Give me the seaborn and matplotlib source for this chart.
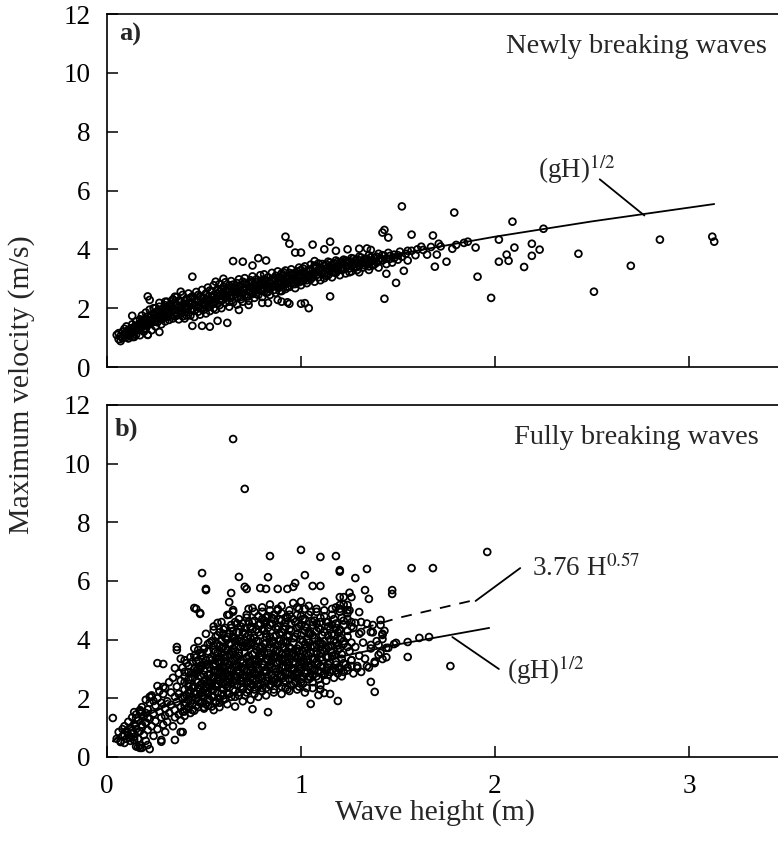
import pandas as pd
import matplotlib
matplotlib.use("Agg")
import matplotlib.pyplot as plt
import seaborn as sns

# ---- panel a: newly breaking waves (wave height m, max velocity m/s) ----
newly_band = [
    (0.05, 1.09), (0.06, 0.95), (0.06, 1.15), (0.07, 0.88), (0.07, 1.05), (0.08, 1.20), (0.08, 0.98), (0.09, 1.10),
    (0.09, 1.30), (0.10, 1.02), (0.10, 1.22), (0.10, 1.38), (0.11, 0.97), (0.11, 1.15), (0.12, 1.30), (0.12, 1.05),
    (0.13, 1.45), (0.13, 1.20), (0.14, 1.02), (0.14, 1.35), (0.15, 1.10), (0.15, 1.55), (0.16, 1.25), (0.16, 1.42),
    (0.17, 1.62), (0.17, 1.08), (0.18, 1.35), (0.18, 1.75), (0.19, 1.50), (0.19, 1.20), (0.20, 1.85), (0.20, 1.62),
    (0.20, 1.30), (0.21, 1.10), (0.21, 1.72), (0.22, 1.45), (0.22, 1.95), (0.23, 1.60), (0.23, 1.25), (0.24, 1.80),
    (0.24, 2.00), (0.25, 1.38), (0.25, 1.68), (0.26, 1.90), (0.26, 1.52), (0.27, 2.05), (0.27, 1.75), (0.28, 1.45),
    (0.28, 1.62), (0.29, 1.95), (0.30, 1.55), (0.30, 2.10), (0.30, 1.80), (0.31, 1.70), (0.31, 2.22), (0.32, 1.95),
    (0.32, 1.60), (0.33, 2.05), (0.33, 1.85), (0.34, 2.30), (0.34, 1.65), (0.35, 1.95), (0.35, 2.15), (0.36, 1.75),
    (0.36, 2.38), (0.37, 2.05), (0.37, 1.62), (0.38, 1.88), (0.38, 2.25), (0.39, 2.45), (0.39, 1.72), (0.40, 2.00),
    (0.40, 2.15), (0.40, 1.65), (0.41, 2.32), (0.41, 1.85), (0.42, 2.05), (0.42, 2.50), (0.43, 1.75), (0.43, 2.20),
    (0.44, 1.95), (0.44, 2.40), (0.45, 2.10), (0.45, 1.70), (0.46, 2.28), (0.46, 2.55), (0.47, 1.88), (0.47, 2.05),
    (0.48, 2.42), (0.48, 1.78), (0.49, 2.18), (0.49, 2.62), (0.50, 1.95), (0.50, 2.35), (0.50, 2.10), (0.51, 1.82),
    (0.51, 2.50), (0.52, 2.25), (0.52, 2.70), (0.53, 2.05), (0.53, 1.90), (0.54, 2.40), (0.54, 2.58), (0.55, 2.15),
    (0.55, 2.78), (0.56, 1.95), (0.56, 2.32), (0.57, 2.65), (0.57, 2.48), (0.58, 2.10), (0.58, 2.82), (0.59, 2.30),
    (0.59, 2.00), (0.60, 2.55), (0.60, 2.72), (0.60, 2.40), (0.61, 2.18), (0.61, 2.88), (0.62, 2.45), (0.62, 2.62),
    (0.63, 2.05), (0.63, 2.78), (0.64, 2.35), (0.64, 2.92), (0.65, 2.55), (0.65, 2.20), (0.66, 2.70), (0.66, 2.48),
    (0.67, 2.85), (0.67, 2.12), (0.68, 2.60), (0.68, 2.98), (0.69, 2.38), (0.69, 2.75), (0.70, 2.50), (0.70, 2.90),
    (0.70, 2.22), (0.71, 2.65), (0.71, 3.02), (0.72, 2.40), (0.72, 2.82), (0.73, 2.58), (0.73, 2.25), (0.74, 2.95),
    (0.74, 2.70), (0.75, 2.48), (0.75, 3.08), (0.76, 2.80), (0.76, 2.35), (0.77, 2.62), (0.77, 2.98), (0.78, 2.75),
    (0.78, 2.45), (0.79, 3.12), (0.79, 2.88), (0.80, 2.60), (0.80, 2.95), (0.80, 2.38), (0.81, 2.78), (0.81, 3.15),
    (0.82, 2.52), (0.82, 2.90), (0.83, 3.05), (0.83, 2.68), (0.84, 2.45), (0.84, 2.85), (0.85, 3.20), (0.85, 2.98),
    (0.86, 2.62), (0.86, 2.78), (0.87, 3.10), (0.87, 2.52), (0.88, 2.92), (0.88, 3.25), (0.89, 2.70), (0.89, 2.85),
    (0.90, 3.02), (0.90, 2.58), (0.90, 3.18), (0.91, 2.80), (0.91, 2.95), (0.92, 3.28), (0.92, 2.65), (0.93, 3.08),
    (0.93, 2.88), (0.94, 2.72), (0.94, 3.20), (0.95, 2.98), (0.95, 3.32), (0.96, 2.82), (0.96, 3.12), (0.97, 2.68),
    (0.97, 3.02), (0.98, 3.25), (0.98, 2.90), (0.99, 3.15), (0.99, 3.38), (1.00, 2.78), (1.00, 3.05), (1.00, 3.30),
    (1.01, 2.92), (1.02, 3.18), (1.02, 3.42), (1.03, 2.85), (1.03, 3.08), (1.04, 3.30), (1.05, 2.98), (1.05, 3.48),
    (1.06, 3.15), (1.07, 2.90), (1.07, 3.38), (1.08, 3.22), (1.09, 3.05), (1.09, 3.52), (1.10, 3.30), (1.10, 2.95),
    (1.11, 3.18), (1.12, 3.45), (1.12, 3.02), (1.13, 3.35), (1.14, 3.58), (1.14, 3.12), (1.15, 3.28), (1.16, 3.48),
    (1.16, 3.05), (1.17, 3.38), (1.18, 3.62), (1.18, 3.20), (1.19, 3.42), (1.20, 3.12), (1.20, 3.55), (1.21, 3.30),
    (1.22, 3.65), (1.23, 3.45), (1.23, 3.18), (1.24, 3.58), (1.25, 3.35), (1.26, 3.70), (1.26, 3.25), (1.27, 3.50),
    (1.28, 3.62), (1.29, 3.40), (1.30, 3.22), (1.30, 3.75), (1.31, 3.52), (1.32, 3.38), (1.33, 3.68), (1.34, 3.48),
    (1.35, 3.80), (1.35, 3.30), (1.36, 3.60), (1.37, 3.45), (1.38, 3.72), (1.39, 3.55), (1.40, 3.85), (1.40, 3.38),
    (1.42, 3.62), (1.43, 3.78), (1.44, 3.50), (1.45, 3.88), (1.46, 3.68), (1.47, 3.55), (1.48, 3.82), (1.50, 3.65),
    (1.51, 3.92), (1.52, 3.75), (1.54, 3.85), (1.55, 3.62), (1.57, 3.95), (1.59, 3.80),
]
newly_core = [
    (0.10, 1.18), (0.11, 1.25), (0.12, 1.12), (0.13, 1.33), (0.14, 1.22), (0.15, 1.40), (0.16, 1.30), (0.17, 1.48),
    (0.18, 1.40), (0.19, 1.62), (0.20, 1.45), (0.21, 1.58), (0.22, 1.70), (0.23, 1.50), (0.24, 1.65), (0.25, 1.85),
    (0.26, 1.70), (0.27, 1.88), (0.28, 1.78), (0.29, 1.68), (0.30, 1.92), (0.31, 1.82), (0.32, 2.08), (0.33, 1.75),
    (0.34, 1.98), (0.35, 1.85), (0.36, 2.12), (0.37, 1.92), (0.38, 2.05), (0.39, 1.85), (0.40, 2.25), (0.41, 2.00),
    (0.42, 2.18), (0.43, 1.95), (0.44, 2.15), (0.45, 2.30), (0.46, 2.05), (0.47, 2.22), (0.48, 2.00), (0.49, 2.35),
    (0.50, 2.20), (0.51, 2.10), (0.52, 2.38), (0.53, 2.28), (0.54, 2.12), (0.55, 2.45), (0.56, 2.22), (0.57, 2.38),
    (0.58, 2.55), (0.59, 2.25), (0.60, 2.48), (0.61, 2.35), (0.62, 2.55), (0.63, 2.40), (0.64, 2.68), (0.65, 2.42),
    (0.66, 2.58), (0.67, 2.38), (0.68, 2.72), (0.69, 2.52), (0.70, 2.65), (0.71, 2.45), (0.72, 2.70), (0.73, 2.85),
    (0.74, 2.55), (0.75, 2.72), (0.76, 2.62), (0.77, 2.88), (0.78, 2.60), (0.79, 2.78), (0.80, 2.85), (0.81, 2.65),
    (0.82, 2.95), (0.83, 2.78), (0.84, 2.70), (0.85, 2.92), (0.86, 3.02), (0.87, 2.80), (0.88, 2.72), (0.89, 3.05),
    (0.90, 2.90), (0.91, 3.10), (0.92, 2.82), (0.93, 2.98), (0.94, 3.05), (0.95, 2.85), (0.96, 3.18), (0.97, 2.95),
    (0.98, 3.08), (0.99, 2.88), (1.00, 3.15), (1.01, 3.22), (1.02, 3.00), (1.03, 3.25), (1.04, 3.10), (1.05, 3.32),
    (1.06, 3.05), (1.07, 3.20), (1.08, 3.40), (1.09, 3.15), (1.10, 3.38), (1.11, 3.25), (1.12, 3.18), (1.13, 3.48),
    (1.14, 3.30), (1.15, 3.40), (1.16, 3.22), (1.17, 3.52), (1.18, 3.35), (1.19, 3.28), (1.20, 3.45), (1.21, 3.58),
    (1.22, 3.32), (1.23, 3.55), (1.24, 3.42), (1.25, 3.60), (1.26, 3.48), (1.27, 3.38), (1.28, 3.52), (1.29, 3.65),
    (1.30, 3.45), (1.31, 3.62), (1.32, 3.55), (1.33, 3.45), (1.34, 3.68), (1.35, 3.55), (1.36, 3.72), (1.37, 3.62),
    (1.38, 3.50), (1.39, 3.75), (1.40, 3.62), (1.41, 3.70), (1.42, 3.80), (1.44, 3.68), (1.46, 3.78), (1.48, 3.70),
    (1.50, 3.80), (0.15, 1.28), (0.17, 1.38), (0.19, 1.30), (0.21, 1.45), (0.23, 1.75), (0.25, 1.55), (0.27, 1.62),
    (0.29, 1.82), (0.31, 1.95), (0.33, 2.15), (0.35, 1.72), (0.37, 2.25), (0.39, 2.10), (0.41, 1.75), (0.43, 2.35),
    (0.45, 1.92), (0.47, 2.45), (0.49, 1.98), (0.51, 2.28), (0.53, 2.60), (0.55, 2.00), (0.57, 2.15), (0.59, 2.65),
    (0.61, 2.60), (0.63, 2.22), (0.65, 2.80), (0.67, 2.55), (0.69, 2.30), (0.71, 2.85), (0.73, 2.40), (0.75, 2.90),
    (0.77, 2.48), (0.79, 2.62), (0.81, 2.98), (0.83, 2.55), (0.85, 2.75), (0.87, 2.95), (0.89, 2.58), (0.91, 3.22),
    (0.93, 2.72), (0.95, 3.12), (0.97, 2.82), (0.99, 3.05), (1.01, 3.35), (1.03, 2.95), (1.05, 3.15), (1.07, 3.45),
    (1.09, 3.30), (1.11, 3.50), (1.13, 3.10), (1.15, 3.55), (1.17, 3.22), (1.19, 3.58), (1.21, 3.40), (1.23, 3.62),
    (1.25, 3.22), (1.27, 3.68), (1.29, 3.30), (1.31, 3.72), (1.33, 3.58), (1.35, 3.42),
]
newly_scatter = [
    (0.13, 1.74), (0.21, 2.40), (0.22, 2.28), (0.25, 2.00), (0.27, 2.18), (0.30, 2.22), (0.34, 2.28), (0.35, 2.39),
    (0.38, 2.56), (0.31, 2.05), (0.44, 3.07), (0.56, 2.90), (0.60, 3.00), (0.65, 3.60), (0.70, 3.58), (0.75, 3.45),
    (0.78, 3.70), (0.82, 3.62), (0.92, 4.43), (0.94, 4.19), (1.06, 4.16), (1.15, 4.26), (0.93, 2.20), (0.94, 2.15),
    (1.02, 2.17), (1.04, 2.00), (1.15, 2.40), (1.43, 2.32), (1.42, 4.57), (1.43, 4.66), (1.45, 4.40), (0.44, 1.40),
    (0.49, 1.40), (0.53, 1.37), (0.57, 1.57), (0.62, 1.50), (0.27, 1.19), (0.13, 1.02), (0.21, 1.09), (0.68, 1.94),
    (0.73, 2.11), (0.80, 2.18), (0.83, 2.18), (0.88, 2.28), (0.90, 2.22), (1.00, 2.15), (1.52, 5.46), (1.79, 5.25),
    (1.57, 4.50), (1.68, 4.47), (1.71, 4.19), (1.62, 4.09), (1.78, 4.02), (1.86, 4.26), (1.90, 4.06), (1.91, 3.07),
    (1.98, 2.35), (1.75, 3.58), (1.69, 3.41), (1.65, 3.82), (1.70, 3.82), (1.53, 3.27), (1.49, 2.86), (1.44, 3.17),
    (1.07, 3.60), (0.97, 3.89), (1.00, 3.89), (1.12, 4.00), (1.18, 3.95), (1.24, 4.00), (1.30, 4.02), (1.34, 4.03),
    (1.36, 3.98), (1.55, 3.95), (1.60, 4.00), (1.63, 3.98), (1.67, 4.08), (1.72, 4.10), (1.80, 4.15), (1.84, 4.22),
    (2.09, 4.94), (2.02, 4.33), (2.25, 4.70), (2.10, 4.06), (2.19, 4.19), (2.23, 3.99), (2.06, 3.82), (2.07, 3.61),
    (2.02, 3.58), (2.19, 3.78), (2.15, 3.40), (2.43, 3.85), (2.70, 3.44), (2.51, 2.56), (2.85, 4.33), (3.12, 4.43),
    (3.13, 4.26),
]

# ---- panel b: fully breaking waves ----
fully_band = [
    (0.05, 0.62), (0.06, 0.85), (0.07, 0.55), (0.08, 0.95), (0.08, 0.70), (0.09, 1.05), (0.10, 0.62), (0.10, 0.88),
    (0.11, 1.20), (0.11, 0.75), (0.12, 1.00), (0.12, 0.55), (0.13, 1.35), (0.13, 0.90), (0.14, 1.12), (0.14, 0.68),
    (0.15, 1.45), (0.15, 0.95), (0.16, 1.25), (0.16, 0.62), (0.17, 1.55), (0.17, 0.88), (0.18, 1.10), (0.18, 1.70),
    (0.19, 0.75), (0.19, 1.40), (0.20, 1.95), (0.20, 1.18), (0.20, 0.55), (0.21, 1.62), (0.21, 0.92), (0.22, 1.30),
    (0.22, 1.85), (0.23, 1.05), (0.23, 2.10), (0.24, 1.48), (0.24, 0.72), (0.25, 1.75), (0.25, 1.22), (0.26, 2.00),
    (0.26, 0.95), (0.27, 1.55), (0.27, 2.25), (0.28, 1.35), (0.28, 1.85), (0.29, 1.10), (0.29, 2.15), (0.30, 1.65),
    (0.30, 1.40), (0.30, 2.35), (0.31, 1.20), (0.31, 1.90), (0.32, 2.55), (0.32, 1.50), (0.33, 1.78), (0.33, 2.20),
    (0.34, 1.05), (0.34, 2.70), (0.35, 1.60), (0.35, 2.05), (0.35, 1.35), (0.36, 2.40), (0.36, 1.88), (0.37, 2.85),
    (0.37, 1.45), (0.37, 2.15), (0.38, 1.70), (0.38, 2.60), (0.38, 1.25), (0.39, 2.00), (0.39, 3.05), (0.39, 1.55),
    (0.40, 2.30), (0.40, 1.85), (0.40, 2.75), (0.40, 1.40), (0.41, 2.10), (0.41, 3.20), (0.41, 1.62), (0.42, 2.50),
    (0.42, 1.95), (0.42, 2.90), (0.43, 1.50), (0.43, 2.25), (0.43, 3.40), (0.44, 2.70), (0.44, 1.80), (0.44, 2.05),
    (0.45, 3.00), (0.45, 2.40), (0.45, 1.58), (0.46, 2.85), (0.46, 2.15), (0.46, 3.25), (0.47, 1.90), (0.47, 2.55),
    (0.47, 1.70), (0.48, 3.10), (0.48, 2.30), (0.48, 2.75), (0.49, 1.85), (0.49, 3.45), (0.49, 2.20), (0.50, 2.60),
    (0.50, 1.65), (0.50, 2.95), (0.50, 2.05), (0.51, 3.30), (0.51, 2.40), (0.51, 1.80), (0.52, 2.80), (0.52, 2.15),
    (0.52, 3.60), (0.53, 1.95), (0.53, 2.55), (0.53, 3.05), (0.54, 2.30), (0.54, 3.40), (0.54, 1.72), (0.55, 2.70),
    (0.55, 2.05), (0.55, 3.80), (0.56, 2.45), (0.56, 3.15), (0.56, 1.90), (0.57, 2.90), (0.57, 2.20), (0.57, 3.55),
    (0.58, 2.60), (0.58, 1.85), (0.58, 3.25), (0.59, 2.35), (0.59, 3.95), (0.59, 2.75), (0.60, 2.10), (0.60, 3.00),
    (0.60, 3.45), (0.60, 2.50), (0.61, 2.85), (0.61, 3.70), (0.61, 1.98), (0.62, 2.40), (0.62, 3.20), (0.62, 4.10),
    (0.63, 2.65), (0.63, 3.50), (0.63, 2.15), (0.64, 3.00), (0.64, 3.85), (0.64, 2.50), (0.65, 2.30), (0.65, 3.30),
    (0.65, 4.30), (0.66, 2.75), (0.66, 3.60), (0.66, 2.05), (0.67, 3.10), (0.67, 2.45), (0.67, 4.00), (0.68, 2.90),
    (0.68, 3.45), (0.68, 2.20), (0.69, 3.75), (0.69, 2.60), (0.69, 4.45), (0.70, 3.20), (0.70, 2.35), (0.70, 3.90),
    (0.70, 2.80), (0.71, 3.55), (0.71, 2.10), (0.71, 4.20), (0.72, 2.95), (0.72, 2.55), (0.72, 3.35), (0.73, 4.60),
    (0.73, 2.30), (0.73, 3.80), (0.74, 3.10), (0.74, 2.70), (0.74, 4.05), (0.75, 2.45), (0.75, 3.50), (0.75, 4.35),
    (0.76, 2.85), (0.76, 3.25), (0.76, 2.15), (0.77, 3.95), (0.77, 2.60), (0.77, 3.65), (0.78, 4.50), (0.78, 3.00),
    (0.78, 2.40), (0.79, 3.40), (0.79, 4.15), (0.79, 2.75), (0.80, 3.75), (0.80, 2.25), (0.80, 4.70), (0.80, 3.15),
    (0.81, 2.55), (0.81, 3.55), (0.81, 4.30), (0.82, 2.90), (0.82, 3.90), (0.82, 2.35), (0.83, 3.30), (0.83, 4.80),
    (0.83, 2.70), (0.84, 3.70), (0.84, 2.45), (0.84, 4.10), (0.85, 3.05), (0.85, 4.55), (0.85, 2.80), (0.86, 3.45),
    (0.86, 2.30), (0.86, 3.95), (0.87, 2.65), (0.87, 4.40), (0.87, 3.20), (0.88, 3.80), (0.88, 2.50), (0.88, 5.00),
    (0.89, 2.95), (0.89, 3.60), (0.89, 4.20), (0.90, 2.40), (0.90, 3.35), (0.90, 4.65), (0.90, 2.80), (0.91, 3.95),
    (0.91, 3.10), (0.91, 2.55), (0.92, 4.45), (0.92, 2.85), (0.92, 3.50), (0.93, 2.30), (0.93, 4.10), (0.93, 3.25),
    (0.94, 3.75), (0.94, 2.65), (0.94, 4.85), (0.95, 3.00), (0.95, 2.45), (0.95, 4.30), (0.96, 3.55), (0.96, 2.75),
    (0.96, 3.90), (0.97, 4.60), (0.97, 2.55), (0.97, 3.20), (0.98, 3.70), (0.98, 2.90), (0.98, 4.20), (0.99, 2.40),
    (0.99, 3.40), (0.99, 5.05), (1.00, 3.05), (1.00, 4.00), (1.00, 2.65), (1.00, 4.50), (1.01, 3.30), (1.01, 2.50),
    (1.02, 3.85), (1.02, 4.70), (1.02, 2.85), (1.03, 3.55), (1.03, 2.35), (1.04, 4.25), (1.04, 3.10), (1.05, 2.70),
    (1.05, 3.75), (1.05, 4.95), (1.06, 3.35), (1.06, 2.55), (1.07, 4.05), (1.07, 2.95), (1.08, 3.60), (1.08, 4.55),
    (1.09, 2.65), (1.09, 3.20), (1.10, 3.90), (1.10, 2.45), (1.10, 4.35), (1.11, 3.05), (1.11, 3.65), (1.12, 2.80),
    (1.12, 4.80), (1.13, 3.40), (1.13, 2.60), (1.14, 4.15), (1.14, 3.15), (1.15, 3.80), (1.15, 2.90), (1.16, 4.50),
    (1.16, 3.45), (1.17, 2.70), (1.17, 3.95), (1.18, 3.25), (1.18, 5.10), (1.19, 3.65), (1.19, 2.85), (1.20, 4.30),
    (1.20, 3.05), (1.21, 3.50), (1.21, 2.75), (1.22, 4.65), (1.22, 3.85), (1.23, 3.15), (1.24, 4.10), (1.24, 2.95),
    (1.25, 3.60), (1.25, 5.00), (1.26, 3.30), (1.27, 4.40), (1.27, 2.85), (1.28, 3.75), (1.29, 3.10), (1.30, 4.20),
    (1.30, 3.45), (1.31, 2.90), (1.32, 3.90), (1.33, 3.35), (1.34, 4.55), (1.35, 3.05), (1.36, 3.70), (1.37, 4.25),
    (1.38, 3.25), (1.39, 3.95), (1.41, 3.55), (1.43, 4.30), (1.44, 3.40),
]
fully_core = [
    (0.55, 2.95), (0.56, 3.35), (0.57, 2.65), (0.58, 3.05), (0.59, 3.55), (0.60, 2.75), (0.61, 3.25), (0.62, 2.95),
    (0.63, 3.85), (0.64, 2.70), (0.65, 3.55), (0.66, 3.05), (0.67, 2.75), (0.68, 3.95), (0.69, 3.30), (0.70, 2.60),
    (0.71, 3.00), (0.72, 3.75), (0.73, 3.25), (0.74, 2.50), (0.75, 3.00), (0.76, 3.80), (0.77, 3.30), (0.78, 2.70),
    (0.79, 3.70), (0.80, 3.45), (0.81, 2.95), (0.82, 4.10), (0.83, 3.05), (0.84, 3.40), (0.85, 2.60), (0.86, 3.70),
    (0.87, 3.00), (0.88, 3.40), (0.89, 2.75), (0.90, 3.85), (0.91, 3.35), (0.92, 3.05), (0.93, 3.60), (0.94, 3.25),
    (0.95, 3.70), (0.96, 3.00), (0.97, 3.45), (0.98, 2.70), (0.99, 3.80), (1.00, 3.25), (1.01, 3.60), (1.02, 3.10),
    (1.03, 4.00), (1.04, 2.75), (0.58, 3.80), (0.60, 4.20), (0.62, 3.65), (0.64, 4.40), (0.66, 4.05), (0.68, 4.70),
    (0.70, 4.25), (0.72, 4.85), (0.74, 4.45), (0.76, 4.95), (0.78, 4.25), (0.80, 5.10), (0.82, 4.60), (0.84, 5.20),
    (0.86, 4.70), (0.88, 4.35), (0.90, 5.15), (0.92, 4.75), (0.94, 4.15), (0.96, 5.25), (0.98, 4.85), (1.00, 5.30),
    (1.02, 4.30), (1.04, 5.15), (1.06, 4.60), (1.08, 5.05), (1.10, 4.75), (1.12, 5.30), (1.14, 4.60), (1.16, 5.05),
    (1.18, 4.40), (1.20, 4.95), (1.22, 5.20), (1.24, 4.70), (1.26, 4.45), (0.45, 3.70), (0.47, 3.95), (0.49, 3.55),
    (0.51, 4.20), (0.53, 3.90), (0.55, 4.45), (0.57, 4.15), (0.59, 4.60), (0.61, 4.40), (0.63, 4.85), (0.65, 4.95),
    (0.67, 4.55), (0.52, 1.75), (0.55, 1.60), (0.58, 1.70), (0.62, 1.80), (0.66, 1.72), (0.70, 1.90), (0.74, 1.95),
    (0.78, 2.05), (0.82, 2.10), (0.86, 2.20), (0.90, 2.15), (0.94, 2.25), (0.98, 2.30), (1.02, 2.20), (1.06, 2.35),
    (1.10, 2.30),
]
fully_dense = [
    (0.40, 1.55), (0.40, 2.05), (0.40, 2.55), (0.40, 2.90), (0.40, 1.75), (0.42, 1.70), (0.42, 2.20), (0.42, 2.65),
    (0.42, 3.10), (0.42, 2.40), (0.44, 1.60), (0.44, 2.35), (0.44, 2.85), (0.44, 3.25), (0.44, 1.95), (0.46, 1.75),
    (0.46, 2.00), (0.46, 2.60), (0.46, 3.40), (0.46, 2.95), (0.48, 1.85), (0.48, 2.45), (0.48, 3.00), (0.48, 3.55),
    (0.48, 2.15), (0.50, 1.70), (0.50, 2.30), (0.50, 2.80), (0.50, 3.20), (0.50, 3.70), (0.52, 1.95), (0.52, 2.55),
    (0.52, 3.15), (0.52, 3.85), (0.52, 2.20), (0.54, 2.05), (0.54, 2.70), (0.54, 3.30), (0.54, 3.95), (0.54, 2.45),
    (0.56, 1.85), (0.56, 2.40), (0.56, 2.95), (0.56, 3.60), (0.56, 4.10), (0.58, 2.00), (0.58, 2.65), (0.58, 3.40),
    (0.58, 4.25), (0.58, 2.90), (0.60, 1.95), (0.60, 2.30), (0.60, 3.10), (0.60, 3.75), (0.60, 4.35), (0.62, 2.15),
    (0.62, 2.75), (0.62, 3.45), (0.62, 4.00), (0.62, 2.55), (0.64, 2.05), (0.64, 2.95), (0.64, 3.60), (0.64, 4.50),
    (0.64, 3.25), (0.66, 2.25), (0.66, 2.60), (0.66, 3.35), (0.66, 3.95), (0.66, 4.60), (0.68, 2.10), (0.68, 2.85),
    (0.68, 3.55), (0.68, 4.25), (0.68, 3.10), (0.70, 2.30), (0.70, 3.05), (0.70, 3.80), (0.70, 4.55), (0.70, 2.70),
    (0.72, 2.20), (0.72, 2.75), (0.72, 3.40), (0.72, 4.10), (0.72, 4.75), (0.74, 2.40), (0.74, 3.20), (0.74, 3.85),
    (0.74, 4.40), (0.74, 2.95), (0.76, 2.30), (0.76, 2.90), (0.76, 3.55), (0.76, 4.65), (0.76, 4.05), (0.78, 2.50),
    (0.78, 3.25), (0.78, 3.95), (0.78, 4.80), (0.78, 2.80), (0.80, 2.35), (0.80, 3.05), (0.80, 3.60), (0.80, 4.35),
    (0.80, 4.95), (0.82, 2.60), (0.82, 3.35), (0.82, 4.20), (0.82, 4.75), (0.82, 2.95), (0.84, 2.45), (0.84, 3.15),
    (0.84, 3.85), (0.84, 4.50), (0.84, 5.00), (0.86, 2.70), (0.86, 3.40), (0.86, 4.10), (0.86, 4.85), (0.86, 2.55),
    (0.88, 2.55), (0.88, 3.20), (0.88, 3.65), (0.88, 4.45), (0.88, 5.05), (0.90, 2.75), (0.90, 3.50), (0.90, 4.25),
    (0.90, 4.90), (0.90, 3.05), (0.92, 2.60), (0.92, 3.30), (0.92, 3.90), (0.92, 4.60), (0.92, 2.35), (0.94, 2.85),
    (0.94, 3.55), (0.94, 4.35), (0.94, 5.00), (0.94, 3.10), (0.96, 2.50), (0.96, 3.25), (0.96, 4.05), (0.96, 4.70),
    (0.96, 2.95), (0.98, 2.80), (0.98, 3.60), (0.98, 4.40), (0.98, 5.10), (0.98, 3.35), (1.00, 2.55), (1.00, 3.40),
    (1.00, 4.15), (1.00, 4.80), (1.00, 2.95), (1.02, 2.90), (1.02, 3.70), (1.02, 4.45), (1.02, 5.05), (1.02, 3.20),
    (1.04, 2.65), (1.04, 3.45), (1.04, 4.20), (1.04, 4.85), (1.04, 3.90), (1.06, 3.00), (1.06, 3.80), (1.06, 4.50),
    (1.06, 2.80), (1.06, 4.15), (1.08, 2.75), (1.08, 3.50), (1.08, 4.30), (1.08, 4.95), (1.08, 3.25), (1.10, 3.10),
    (1.10, 3.85), (1.10, 4.60), (1.10, 2.90), (1.10, 3.55), (1.12, 2.85), (1.12, 3.60), (1.12, 4.25), (1.12, 5.00),
    (1.12, 3.95), (1.14, 3.05), (1.14, 3.75), (1.14, 4.45), (1.14, 2.80), (1.14, 3.40), (1.16, 2.95), (1.16, 3.55),
    (1.16, 4.20), (1.16, 4.85), (1.16, 3.80), (1.18, 3.15), (1.18, 3.90), (1.18, 4.55), (1.18, 2.95), (1.18, 3.50),
    (1.20, 3.00), (1.20, 3.70), (1.20, 4.35), (1.20, 5.05), (1.20, 4.00), (1.22, 3.20), (1.22, 3.95), (1.22, 4.50),
    (1.22, 2.90), (1.24, 3.05), (1.24, 3.75), (1.24, 4.30), (1.24, 4.90), (1.26, 3.30), (1.26, 3.90), (1.26, 4.60),
    (1.26, 3.10),
]
fully_fill = [
    (0.45, 2.20), (0.45, 2.85), (0.45, 3.45), (0.47, 2.35), (0.47, 3.00), (0.47, 3.30), (0.49, 2.50), (0.49, 2.10),
    (0.49, 3.10), (0.51, 2.65), (0.51, 3.15), (0.51, 2.25), (0.53, 2.40), (0.53, 3.35), (0.53, 2.80), (0.55, 2.30),
    (0.55, 3.10), (0.55, 3.65), (0.57, 2.50), (0.57, 3.25), (0.57, 3.85), (0.59, 2.15), (0.59, 2.95), (0.59, 3.70),
    (0.61, 2.45), (0.61, 3.40), (0.61, 4.05), (0.63, 2.80), (0.63, 3.15), (0.63, 4.20), (0.65, 2.55), (0.65, 3.70),
    (0.65, 4.10), (0.67, 2.95), (0.67, 3.40), (0.67, 4.25), (0.69, 2.40), (0.69, 3.05), (0.69, 3.95), (0.71, 2.75),
    (0.71, 3.75), (0.71, 4.40), (0.73, 2.55), (0.73, 3.45), (0.73, 4.15), (0.75, 2.65), (0.75, 3.90), (0.75, 4.60),
    (0.77, 2.80), (0.77, 3.15), (0.77, 4.35), (0.79, 2.50), (0.79, 3.55), (0.79, 4.55), (0.81, 3.15), (0.81, 3.85),
    (0.81, 4.65), (0.83, 2.60), (0.83, 3.55), (0.83, 4.40), (0.85, 3.30), (0.85, 3.95), (0.85, 4.75), (0.87, 2.90),
    (0.87, 3.60), (0.87, 4.15), (0.89, 3.25), (0.89, 3.95), (0.89, 4.70), (0.91, 2.70), (0.91, 3.75), (0.91, 4.35),
    (0.93, 3.40), (0.93, 3.95), (0.93, 4.75), (0.95, 2.80), (0.95, 3.45), (0.95, 4.55), (0.97, 3.65), (0.97, 4.10),
    (0.97, 2.85), (0.99, 3.10), (0.99, 3.60), (0.99, 4.45), (1.01, 2.75), (1.01, 3.95), (1.01, 4.70), (1.03, 3.30),
    (1.03, 3.75), (1.03, 4.40), (1.05, 3.05), (1.05, 3.55), (1.05, 4.20), (1.07, 3.35), (1.07, 3.75), (1.07, 4.65),
    (1.09, 2.95), (1.09, 3.95), (1.09, 4.40), (1.11, 3.30), (1.11, 3.85), (1.11, 4.15), (1.13, 2.95), (1.13, 3.70),
    (1.13, 4.60), (1.15, 3.20), (1.15, 4.00), (1.15, 4.35), (1.17, 3.45), (1.17, 4.15), (1.17, 4.70), (1.19, 3.05),
    (1.19, 3.80), (1.19, 4.25), (1.21, 3.35), (1.21, 4.05), (1.21, 4.75),
]
fully_scatter = [
    (0.65, 10.84), (0.71, 9.14), (0.03, 1.33), (0.49, 6.27), (0.51, 5.69), (0.46, 5.05), (0.48, 4.88), (0.68, 6.14),
    (0.64, 5.59), (0.71, 5.80), (0.72, 5.73), (0.84, 6.85), (1.00, 7.06), (1.10, 6.82), (1.18, 6.85), (1.20, 6.37),
    (1.20, 6.32), (1.34, 6.41), (1.02, 6.20), (0.83, 6.13), (0.97, 5.93), (1.28, 6.10), (1.33, 5.69), (1.35, 5.39),
    (1.47, 5.69), (1.47, 5.56), (1.41, 4.67), (1.48, 3.85), (1.45, 3.72), (1.36, 2.56), (1.38, 2.22), (1.29, 3.03),
    (1.19, 1.91), (1.05, 1.81), (1.09, 2.11), (1.12, 2.18), (1.15, 2.15), (0.83, 1.53), (0.75, 1.63), (0.49, 1.06),
    (0.35, 0.58), (0.38, 0.85), (0.28, 0.58), (0.28, 0.52), (0.17, 0.31), (0.22, 0.27), (0.17, 0.40), (0.15, 0.36),
    (0.14, 1.53), (0.17, 1.57), (0.20, 1.50), (0.29, 3.17), (0.26, 2.42), (0.29, 2.39), (0.22, 2.05), (0.24, 1.91),
    (0.36, 3.75), (0.36, 3.65), (0.38, 3.35), (0.40, 3.30), (0.47, 3.65), (0.50, 3.68), (0.55, 4.33), (0.57, 4.57),
    (0.62, 4.84), (0.65, 5.01), (0.63, 5.28), (0.73, 5.05), (0.75, 5.08), (0.79, 5.76), (0.82, 5.73), (0.88, 5.73),
    (0.93, 5.73), (0.96, 5.80), (1.06, 5.83), (1.10, 5.83), (1.22, 5.45), (1.25, 5.60), (1.57, 6.44), (1.68, 6.44),
    (1.96, 6.99), (1.77, 3.10), (1.55, 3.41), (1.44, 3.72), (1.49, 3.89), (1.55, 3.92), (1.61, 4.06), (1.66, 4.09),
    (1.36, 3.82), (1.40, 3.82), (1.40, 3.48), (1.42, 3.34), (1.42, 4.16), (1.42, 4.02), (1.34, 3.10), (1.38, 3.20),
    (1.20, 5.45), (1.26, 5.45), (1.20, 5.18), (1.24, 5.18), (1.24, 5.00), (1.30, 4.94), (1.31, 4.60), (1.28, 4.57),
    (1.31, 4.26), (1.36, 4.26), (1.42, 4.20), (1.41, 4.50), (1.37, 4.50), (0.07, 0.51), (0.09, 0.48), (0.12, 0.65),
    (0.14, 0.58), (0.16, 0.34), (0.18, 0.31), (0.21, 0.41), (0.09, 0.75), (0.13, 0.82), (0.16, 0.85), (0.18, 1.02),
    (0.20, 1.16), (0.21, 1.33), (0.15, 1.33), (0.17, 1.60), (0.18, 1.53), (0.23, 2.05), (0.26, 3.20), (0.35, 3.03),
    (0.30, 0.85), (0.39, 0.85), (0.45, 5.08), (0.48, 4.91), (0.51, 5.73),
]

# curves
gh_h_a = [0.07, 0.2, 0.5, 1.0, 1.5, 2.0, 2.5, 3.13]
gh_v_a = [0.83, 1.40, 2.21, 3.13, 3.84, 4.43, 4.95, 5.54]
gh_h_b = [0.03, 0.1, 0.2, 0.3, 0.5, 0.75, 1.0, 1.5, 1.97]
gh_v_b = [0.54, 0.99, 1.40, 1.72, 2.21, 2.71, 3.13, 3.84, 4.40]
fit_h_b = [0.03, 0.1, 0.2, 0.3, 0.5, 0.75, 1.0, 1.5, 1.9]
fit_v_b = [0.51, 1.01, 1.50, 1.89, 2.53, 3.19, 3.76, 4.74, 5.36]

yticks = [0, 2, 4, 6, 8, 10, 12]
xticks = [0, 1, 2, 3]

sns.set_theme(style="ticks")
plt.rcParams["font.family"] = ["Liberation Serif", "DejaVu Serif"]
plt.rcParams["mathtext.fontset"] = "stix"

fig = plt.figure(figsize=(7.78, 8.41), dpi=100)
W, H = 778, 841
x_px = 194.0  # pixels per metre
ax_a = fig.add_axes([107 / W, 1 - 367 / H, 3.5 * x_px / W, (367 - 14) / H])
ax_b = fig.add_axes([107 / W, 1 - 757 / H, 3.5 * x_px / W, (757 - 405) / H])

scat_kw = dict(marker="o", s=24, facecolor="none", edgecolor="black", linewidth=1.3, zorder=3)


def to_df(*groups):
    rows = [p for g in groups for p in g]
    return pd.DataFrame(rows, columns=["h", "v"])


sns.lineplot(x=gh_h_a, y=gh_v_a, ax=ax_a, color="black", lw=1.3, estimator=None, sort=False, zorder=2)
sns.scatterplot(data=to_df(newly_band, newly_core, newly_scatter), x="h", y="v", ax=ax_a, **scat_kw)

sns.lineplot(x=gh_h_b, y=gh_v_b, ax=ax_b, color="black", lw=1.3, estimator=None, sort=False, zorder=2)
sns.lineplot(x=fit_h_b, y=fit_v_b, ax=ax_b, color="black", lw=1.3, ls=(0, (6, 5)),
             estimator=None, sort=False, zorder=2)
sns.scatterplot(data=to_df(fully_band, fully_core, fully_dense, fully_fill, fully_scatter),
                x="h", y="v", ax=ax_b, **scat_kw)

for ax in (ax_a, ax_b):
    ax.set_xlim(0, 3.5)
    ax.set_ylim(0, 12)
    ax.set_yticks(yticks)
    ax.set_xticks(xticks)
    ax.set_xlabel("")
    ax.set_ylabel("")
    ax.tick_params(direction="in", length=8, width=1.1, labelsize=19.5, colors="black")
    ax.tick_params(axis="y", pad=12)
    ax.tick_params(axis="x", pad=12)
    for side in ("left", "bottom", "top", "right"):
        ax.spines[side].set_linewidth(1.2)
        ax.spines[side].set_color("black")
ax_a.set_xticklabels([])

# panel labels and titles
ax_a.text(0.065, 11.32, "a)", fontsize=19, fontweight="bold", va="center", ha="left")
ax_b.text(0.04, 11.18, "b)", fontsize=19, fontweight="bold", va="center", ha="left")
ax_a.text(3.40, 10.9, "Newly breaking waves", fontsize=20.5, va="center", ha="right")
ax_b.text(3.36, 10.88, "Fully breaking waves", fontsize=20.5, va="center", ha="right")

# curve annotations
ax_a.text(2.22, 6.72, r"(gH)$^{1/2}$", fontsize=19.5, va="center", ha="left")
ax_a.plot([2.54, 2.77], [6.38, 5.15], color="black", lw=1.3)
ax_b.text(2.19, 6.44, r"3.76 H$^{0.57}$", fontsize=19.5, va="center", ha="left")
ax_b.plot([2.13, 1.90], [6.44, 5.32], color="black", lw=1.3)
ax_b.text(2.06, 2.97, r"(gH)$^{1/2}$", fontsize=19.5, va="center", ha="left")
ax_b.plot([1.78, 2.02], [4.09, 3.00], color="black", lw=1.3)

fig.text(435 / W, 1 - 813 / H, "Wave height (m)", fontsize=21.5, ha="center", va="center")
fig.text(22 / W, 1 - 385 / H, "Maximum velocity (m/s)", fontsize=21.5, rotation=90, ha="center", va="center")

fig.savefig("out.png", dpi=100)
